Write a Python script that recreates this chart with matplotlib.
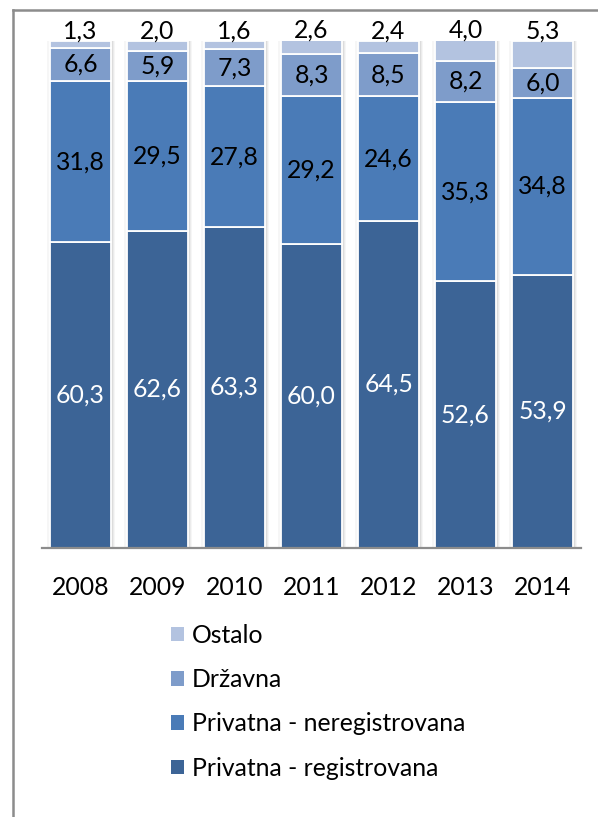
import matplotlib
matplotlib.use("Agg")
import matplotlib.pyplot as plt
from matplotlib.lines import Line2D
from matplotlib.patches import Patch
import numpy as np

years = ["2008", "2009", "2010", "2011", "2012", "2013", "2014"]
reg = [60.3, 62.6, 63.3, 60.0, 64.5, 52.6, 53.9]
nereg = [31.8, 29.5, 27.8, 29.2, 24.6, 35.3, 34.8]
drz = [6.6, 5.9, 7.3, 8.3, 8.5, 8.2, 6.0]
ost = [1.3, 2.0, 1.6, 2.6, 2.4, 4.0, 5.3]

series_names = ["Privatna - registrovana", "Privatna - neregistrovana", "Državna", "Ostalo"]
colors = ["#3C6496", "#4A7BB7", "#7E9CCA", "#B3C3E0"]
label_colors = ["white", "black", "black", "black"]

plt.rcParams["font.family"] = ["Lato", "DejaVu Sans"]
FS = 17.8

fig = plt.figure(figsize=(5.98, 8.17), dpi=100)
ax = fig.add_axes([42/598, (817-548)/817, 539/598, 507/817])

x = np.arange(len(years))
w = 0.78
data = [reg, nereg, drz, ost]
totals = np.sum(np.array(data), axis=0)

# soft shadow
for k, a in [(0.10, 0.10), (0.07, 0.15), (0.04, 0.25)]:
    ax.bar(x + 0.01, totals, w + k, bottom=0, color="#b0b0b0", alpha=a, linewidth=0, zorder=1)

bottom = np.zeros(len(years))
for vals, c, lc in zip(data, colors, label_colors):
    vals = np.array(vals)
    ax.bar(x, vals, w, bottom=bottom, color=c, edgecolor="white", linewidth=1.3, zorder=2)
    bottom = bottom + vals

# labels
bottom = np.zeros(len(years))
for si, (vals, lc) in enumerate(zip(data, label_colors)):
    vals = np.array(vals)
    for i, v in enumerate(vals):
        s = f"{v:.1f}".replace(".", ",")
        if si == 3:
            ax.text(x[i], bottom[i] + v + 0.5, s, ha="center", va="baseline",
                    fontsize=FS, color="black", zorder=5, clip_on=False)
        else:
            ax.text(x[i], bottom[i] + v / 2, s, ha="center", va="center",
                    fontsize=FS, color=lc, zorder=5)
    bottom = bottom + vals

ax.set_xlim(-0.5, len(years) - 0.5)
ax.set_ylim(0, 100)
ax.set_xticks(x)
ax.set_xticklabels(years, fontsize=FS)
ax.tick_params(axis="x", length=0, pad=20)
ax.set_yticks([])
for s in ["top", "right", "left"]:
    ax.spines[s].set_visible(False)
ax.spines["bottom"].set_color("#8c8c8c")
ax.spines["bottom"].set_linewidth(1.6)
ax.spines["bottom"].set_zorder(6)
ax.patch.set_alpha(0)

handles = [Patch(facecolor=colors[i], edgecolor="none") for i in [3, 2, 1, 0]]
labels = [series_names[i] for i in [3, 2, 1, 0]]
leg = fig.legend(handles, labels, loc="upper left", bbox_to_anchor=(161/598, 1 - 614/817),
                 frameon=False, fontsize=FS, handlelength=0.53, handleheight=0.53,
                 handletextpad=0.33, labelspacing=0.86, borderaxespad=0)

# outer frame (partially visible)
fig.add_artist(Line2D([13/598, 1.0], [1 - 10/817, 1 - 10/817], transform=fig.transFigure,
                      color="#8c8c8c", linewidth=1.8))
fig.add_artist(Line2D([13/598, 13/598], [0, 1 - 10/817], transform=fig.transFigure,
                      color="#8c8c8c", linewidth=1.8))

fig.savefig("out.png", dpi=100)
